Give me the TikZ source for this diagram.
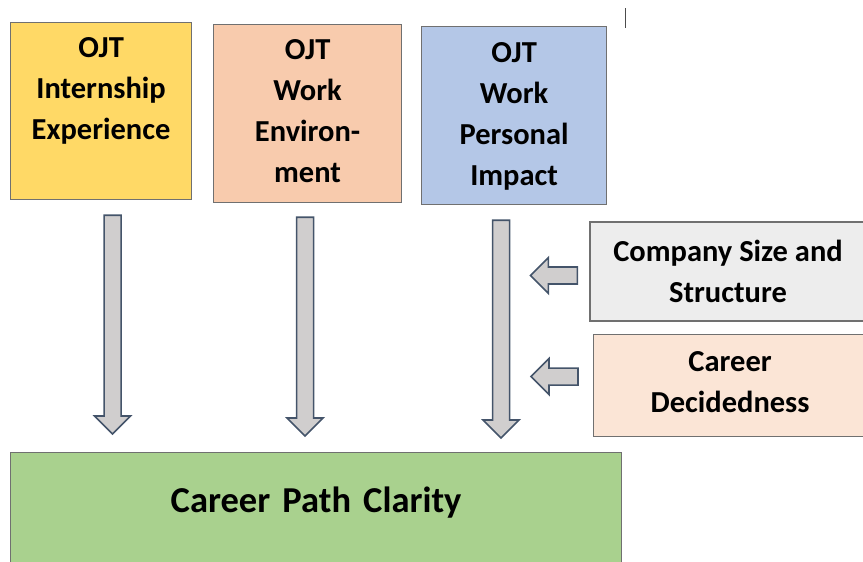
\documentclass[tikz,border=0pt]{standalone}
\usepackage{fontspec}
\setmainfont{Carlito}
\usetikzlibrary{calc}

\definecolor{ojtyellow}{HTML}{FFD966}
\definecolor{ojtpeach}{HTML}{F8CBAD}
\definecolor{ojtblue}{HTML}{B4C7E7}
\definecolor{sizegray}{HTML}{EDEDED}
\definecolor{decidedpeach}{HTML}{FBE5D6}
\definecolor{claritygreen}{HTML}{A9D18E}
\definecolor{boxline}{HTML}{707070}
\definecolor{arrowline}{HTML}{44546A}
\definecolor{arrowfill}{HTML}{D0CECE}

\tikzstyle{qbox}=[rectangle, draw=boxline, line width=1.2pt, anchor=north west,
                  inner sep=0pt, align=center, font=\bfseries\fontsize{30.5}{41}\selectfont]
\tikzstyle{qside}=[rectangle, draw=boxline, line width=1.2pt, inner sep=0pt,
                   align=center, font=\bfseries\fontsize{30.5}{41}\selectfont]
\tikzstyle{fatarrow}=[draw=arrowline, fill=arrowfill, line width=1.6pt, line join=miter]

% block arrow from #1 to its tip #2
\newcommand{\blockarrow}[2]{%
  \coordinate (neck) at ($(#2)!18pt!(#1)$);
  \draw[fatarrow] ($(#1)!8.5pt!90:(#2)$) -- ($(neck)!8.5pt!-90:(#1)$)
    -- ($(neck)!18pt!-90:(#1)$) -- (#2) -- ($(neck)!18pt!90:(#1)$)
    -- ($(neck)!8.5pt!90:(#1)$) -- ($(#1)!8.5pt!-90:(#2)$) -- cycle;}

\begin{document}
\begin{tikzpicture}[x=1pt,y=-1pt]
  \useasboundingbox (0,0) rectangle (863,562);

  \node[qbox, fill=ojtyellow, text width=181pt, text height=35pt, text depth=142pt]
    (ojtexp) at (10,22) {OJT\\Internship\\Experience};
  \node[qbox, fill=ojtpeach, text width=188pt, text height=35pt, text depth=143pt]
    (ojtenv) at (213,24) {OJT\\Work\\Environ-\\ment};
  \node[qbox, fill=ojtblue, text width=185pt, text height=36pt, text depth=142pt]
    (ojtimp) at (421,26) {OJT\\Work\\Personal\\Impact};

  \node[qside, fill=sizegray, minimum width=276pt, minimum height=99pt]
    (size) at (728,271.5) {Company Size and\\Structure};
  \node[qbox, fill=decidedpeach, text width=273pt, text height=37pt, text depth=65pt]
    (decided) at (593,334) {Career\\Decidedness};

  \node[qbox, fill=claritygreen, text width=611pt, text height=60pt, text depth=70pt,
        font=\bfseries\fontsize{36.5}{42}\selectfont]
    (clarity) at (10,452) {Career Path Clarity};

  % arrow ends
  \coordinate (a1s) at ($(ojtexp.south)+(11.5,15)$);
  \coordinate (a1t) at ($(clarity.north -| a1s)+(0,-18)$);
  \coordinate (a2s) at ($(ojtenv.south)+(-2.5,14)$);
  \coordinate (a2t) at ($(clarity.north -| a2s)+(0,-16)$);
  \coordinate (a3s) at ($(ojtimp.south)+(-13,15)$);
  \coordinate (a3t) at ($(clarity.north -| a3s)+(0,-14)$);
  \coordinate (b1s) at ($(size.west)+(-12,4)$);
  \coordinate (b1t) at ($(b1s)+(-47,0)$);
  \coordinate (b2s) at ($(decided.west)+(-15,-9)$);
  \coordinate (b2t) at ($(b2s)+(-47,0)$);

  \blockarrow{a1s}{a1t}
  \blockarrow{a2s}{a2t}
  \blockarrow{a3s}{a3t}
  \blockarrow{b1s}{b1t}
  \blockarrow{b2s}{b2t}

  \draw[line width=1pt, black!70] (625,8) -- (625,28);
\end{tikzpicture}
\end{document}
